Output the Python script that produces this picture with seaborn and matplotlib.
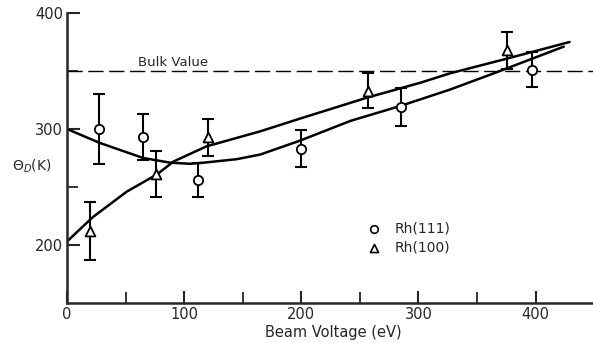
import matplotlib
matplotlib.use("Agg")
import matplotlib.pyplot as plt
import seaborn as sns
import pandas as pd
from matplotlib.ticker import FixedLocator

# ---- data ----
rh111_x = [27, 65, 112, 200, 285, 397]
rh111_y = [300, 293, 256, 283, 319, 351]
rh111_err = [30, 20, 15, 16, 16, 15]

rh100_x = [20, 76, 120, 257, 376]
rh100_y = [212, 261, 293, 333, 368]
rh100_err = [25, 20, 16, 15, 16]

curve111_x = [0, 28, 65, 88, 105, 117, 145, 165, 199, 242, 285, 327, 367, 424]
curve111_y = [300, 288, 275, 271, 270, 271, 274, 278, 290, 307, 320, 334, 349, 371]

curve100_x = [0, 22, 51, 77, 91, 119, 165, 199, 256, 302, 327, 373, 429]
curve100_y = [203, 224, 246, 261, 272, 285, 298, 309, 327, 340, 348, 360, 375]

bulk_value = 350
x_ticks = [0, 100, 200, 300, 400]
x_minor = [50, 150, 250, 350]
y_ticks = [200, 300, 400]
y_minor = [250, 350]

sns.set_style("ticks")
plt.rcParams['font.family'] = ['DejaVu Sans']

fig = plt.figure(figsize=(5.93, 3.43), dpi=100)
ax = fig.add_axes([67/593, 40/343, 1 - 67/593, (303-13)/343])

c111 = pd.DataFrame({"x": curve111_x, "y": curve111_y})
c100 = pd.DataFrame({"x": curve100_x, "y": curve100_y})
sns.lineplot(data=c111, x="x", y="y", ax=ax, color="black", lw=1.8, sort=False)
sns.lineplot(data=c100, x="x", y="y", ax=ax, color="black", lw=1.8, sort=False)

ax.axhline(bulk_value, color="black", lw=1.0, dashes=(11, 4))
ax.text(61, 357, "Bulk Value", fontsize=9.5, va="center", ha="left")

ax.errorbar(rh111_x, rh111_y, yerr=rh111_err, fmt="none", ecolor="black",
            elinewidth=1.5, capsize=4, capthick=1.5)
ax.errorbar(rh100_x, rh100_y, yerr=rh100_err, fmt="none", ecolor="black",
            elinewidth=1.5, capsize=4, capthick=1.5)

d111 = pd.DataFrame({"x": rh111_x, "y": rh111_y})
d100 = pd.DataFrame({"x": rh100_x, "y": rh100_y})
sns.scatterplot(data=d111, x="x", y="y", ax=ax, marker="o", s=45,
                facecolor="white", edgecolor="black", linewidth=1.3, zorder=5)
sns.scatterplot(data=d100, x="x", y="y", ax=ax, marker="^", s=50,
                facecolor="white", edgecolor="black", linewidth=1.3, zorder=5)

# legend (drawn as in the reference, without frame)
ax.scatter([262], [214], marker="o", s=30, facecolor="white", edgecolor="black", linewidth=1.2, zorder=5)
ax.scatter([262], [197.5], marker="^", s=34, facecolor="white", edgecolor="black", linewidth=1.2, zorder=5)
ax.text(280, 214, "Rh(111)", fontsize=10, va="center", ha="left")
ax.text(280, 197.5, "Rh(100)", fontsize=10, va="center", ha="left")

ax.set_xlim(0, 449)
ax.set_ylim(150, 400)
ax.set_xticks(x_ticks)
ax.set_yticks(y_ticks)
ax.xaxis.set_minor_locator(FixedLocator(x_minor))
ax.yaxis.set_minor_locator(FixedLocator(y_minor))
ax.tick_params(which="major", direction="in", length=9, width=1.5, labelsize=10.5, pad=3)
ax.tick_params(which="minor", direction="in", length=8, width=1.3)
sns.despine(ax=ax)
for s in ["left", "bottom"]:
    ax.spines[s].set_linewidth(1.8)

ax.set_xlabel("Beam Voltage (eV)", fontsize=10.5)
ax.xaxis.set_label_coords((333 - 67) / (593 - 67), -0.075)
ax.set_ylabel("")
fig.text(32/593, 1 - 166/343, r"$\Theta_D$(K)", fontsize=10, ha="center", va="center")

fig.savefig("out.png", dpi=100)
